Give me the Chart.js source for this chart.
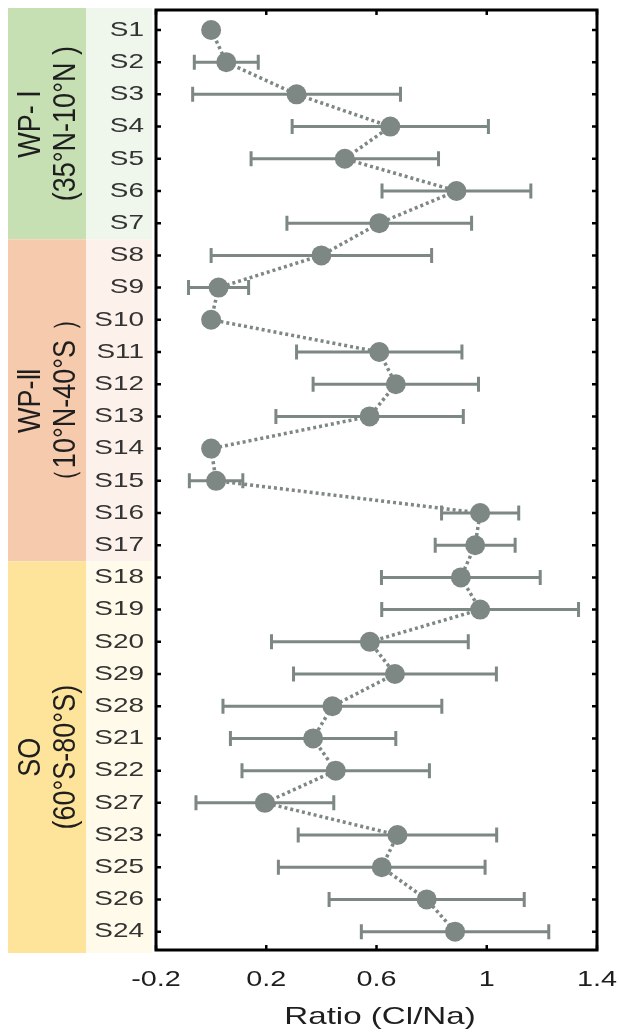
<!DOCTYPE html>
<html>
<head>
<meta charset="utf-8">
<script src="https://cdn.jsdelivr.net/npm/chart.js@4.4.1/dist/chart.umd.min.js"></script>
<style>
  html, body { margin: 0; padding: 0; background: #fff; }
  #wrap { position: relative; width: 619px; height: 1035px; }
</style>
</head>
<body>
<div id="wrap"><canvas id="chart"></canvas></div>
<script>
// stations, top to bottom
const stations = ['S1', 'S2', 'S3', 'S4', 'S5', 'S6', 'S7', 'S8', 'S9', 'S10',
  'S11', 'S12', 'S13', 'S14', 'S15', 'S16', 'S17', 'S18', 'S19', 'S20',
  'S29', 'S28', 'S21', 'S22', 'S27', 'S23', 'S25', 'S26', 'S24'];

// mean Cl/Na ratio per station
const ratio = [0.00, 0.055, 0.31, 0.65, 0.485, 0.89, 0.61, 0.40, 0.027, 0.00,
  0.61, 0.67, 0.575, 0.00, 0.018, 0.976, 0.958, 0.906, 0.976, 0.576,
  0.667, 0.44, 0.37, 0.452, 0.195, 0.676, 0.619, 0.782, 0.885];

// standard deviation (0 = single sample, no bar)
const errors = [0, 0.116, 0.377, 0.356, 0.34, 0.27, 0.335, 0.40, 0.109, 0,
  0.30, 0.30, 0.34, 0, 0.097, 0.14, 0.145, 0.288, 0.357, 0.357,
  0.368, 0.397, 0.30, 0.34, 0.25, 0.36, 0.375, 0.354, 0.34];

const xTicks = [-0.2, 0.2, 0.6, 1, 1.4];

// sea regions: first / last station index
const regionNames = ['WP- \u2160', 'WP-\u2161', 'SO'];
const regionLats = ['(35°N-10°N )', '\uFF0810°N-40°S \uFF09', '(60°S-80°S)'];
const regionFirst = [0, 7, 17];
const regionLast = [6, 16, 28];
const regionDark = ['#c6e0b4', '#f6caac', '#fee49a'];
const regionLight = ['#eff6eb', '#fdf2eb', '#fffaea'];

const MARK = '#7d8783';
const FONT = '"Liberation Sans", Arial, sans-serif';

function stretchedText(ctx, text, x, y, size, sx, align, rotate) {
  ctx.save();
  ctx.font = size + 'px ' + FONT;
  ctx.textAlign = align;
  ctx.textBaseline = 'middle';
  ctx.translate(x, y);
  ctx.scale(sx, 1);
  if (rotate) ctx.rotate(-Math.PI / 2);
  ctx.fillText(text, 0, 0);
  ctx.restore();
}

const decorations = {
  id: 'decorations',
  beforeDraw(chart) {
    const { ctx, chartArea } = chart;
    const y = chart.scales.y;
    ctx.save();
    ctx.fillStyle = '#fff';
    ctx.fillRect(0, 0, chart.width, chart.height);
    regionFirst.forEach((first, i) => {
      const top = i === 0 ? chartArea.top - 2 : y.getPixelForValue(first - 0.5);
      const bottom = i === regionFirst.length - 1 ? chartArea.bottom + 3 : y.getPixelForValue(regionLast[i] + 0.5);
      ctx.fillStyle = regionDark[i];
      ctx.fillRect(8, top, 78, bottom - top);
      ctx.fillStyle = regionLight[i];
      ctx.fillRect(86, top, 66, bottom - top);
      const mid = (top + bottom) / 2;
      ctx.fillStyle = '#1e1e1e';
      stretchedText(ctx, regionNames[i], 31, mid, 27, 1.15, 'center', true);
      stretchedText(ctx, regionLats[i], 66, mid, 27, 1.15, 'center', true);
    });
    ctx.restore();
  },
  beforeDatasetsDraw(chart) {
    const { ctx } = chart;
    const x = chart.scales.x, y = chart.scales.y;
    ctx.save();
    ctx.strokeStyle = MARK;
    ctx.lineWidth = 3;
    ratio.forEach((v, i) => {
      if (!errors[i]) return;
      const py = y.getPixelForValue(i);
      const x0 = x.getPixelForValue(v - errors[i]);
      const x1 = x.getPixelForValue(v + errors[i]);
      ctx.beginPath();
      ctx.moveTo(x0, py); ctx.lineTo(x1, py);
      ctx.moveTo(x0, py - 7.5); ctx.lineTo(x0, py + 7.5);
      ctx.moveTo(x1, py - 7.5); ctx.lineTo(x1, py + 7.5);
      ctx.stroke();
    });
    ctx.restore();
  },
  afterDatasetsDraw(chart) {
    const { ctx, chartArea: a } = chart;
    const x = chart.scales.x, y = chart.scales.y;
    ctx.save();
    ctx.strokeStyle = '#000';
    ctx.lineWidth = 2.5;
    ctx.beginPath();
    stations.forEach((s, i) => {
      const py = y.getPixelForValue(i);
      ctx.moveTo(a.left, py); ctx.lineTo(a.left + 5, py);
      ctx.moveTo(a.right, py); ctx.lineTo(a.right - 5, py);
    });
    xTicks.forEach(t => {
      const px = x.getPixelForValue(t);
      ctx.moveTo(px, a.bottom); ctx.lineTo(px, a.bottom - 5);
      ctx.moveTo(px, a.top); ctx.lineTo(px, a.top + 5);
    });
    ctx.stroke();
    ctx.lineWidth = 3;
    ctx.strokeRect(a.left, a.top, a.right - a.left, a.bottom - a.top);

    ctx.fillStyle = '#333';
    stations.forEach((s, i) => {
      stretchedText(ctx, s, 144, y.getPixelForValue(i), 21, 1.33, 'right', false);
    });
    ctx.fillStyle = '#1e1e1e';
    xTicks.forEach(t => {
      stretchedText(ctx, String(t), x.getPixelForValue(t), 980, 22, 1.31, 'center', false);
    });
    stretchedText(ctx, 'Ratio (Cl/Na)', 380, 1017, 24, 1.38, 'center', false);
    ctx.restore();
  }
};

new Chart(document.getElementById('chart'), {
  type: 'scatter',
  data: {
    datasets: [{
      data: ratio.map((v, i) => ({ x: v, y: i })),
      showLine: true,
      borderColor: MARK,
      borderWidth: 3.5,
      borderDash: [3, 3],
      pointRadius: 10,
      pointHoverRadius: 10,
      pointBorderWidth: 0,
      pointBackgroundColor: MARK,
      clip: false
    }]
  },
  options: {
    responsive: true,
    maintainAspectRatio: false,
    animation: false,
    layout: { padding: { left: 156, right: 22, top: 10, bottom: 85 } },
    plugins: { legend: { display: false }, tooltip: { enabled: false } },
    scales: {
      x: { type: 'linear', min: -0.2, max: 1.4, display: false },
      y: { type: 'linear', reverse: true, min: -0.62, max: 28.57, display: false }
    }
  },
  plugins: [decorations]
});
</script>
</body>
</html>
